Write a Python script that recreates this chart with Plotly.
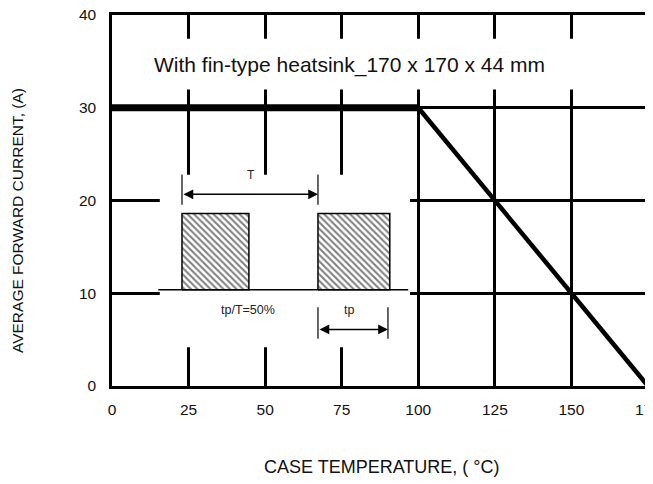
import plotly.graph_objects as go

# ---- data ----
case_temp_flat = [0, 100]
current_flat = [30, 30]
case_temp_slope = [100, 175]
current_slope = [30, 0]

x_ticks = [0, 25, 50, 75, 100, 125, 150, 175]
y_ticks = [0, 10, 20, 30, 40]

title_text = "With fin-type heatsink_170 x 170 x 44 mm"
x_title = "CASE TEMPERATURE, ( °C)"
y_title = "AVERAGE FORWARD CURRENT, (A)"

# ---- inset schematic (pulse train) geometry, in axis units ----
pulse1_x = [22.85, 44.7]
pulse2_x = [67.25, 90.7]
pulse_y = [10.37, 18.6]
baseline_x = [15.1, 96.7]
T_arrow_y = 20.67
T_tick_y = [19.55, 22.8]
tp_arrow_x = [67.25, 90.1]
tp_arrow_y = 6.1
tp_tick_y = [5.1, 8.5]

FONT = "Liberation Sans, Arial, sans-serif"

# page body has an 8px margin: size the figure so it fits the window
OFF = 8
W, H = 653 - OFF, 484 - OFF
L, T = 112 - OFF, 15 - OFF
PW, PH = 536, 371
R, B = W - L - PW, H - T - PH

fig = go.Figure()

# pulses (hatched)
for px in (pulse1_x, pulse2_x):
    fig.add_trace(go.Scatter(
        x=[px[0], px[1], px[1], px[0], px[0]],
        y=[pulse_y[0], pulse_y[0], pulse_y[1], pulse_y[1], pulse_y[0]],
        mode="lines", fill="toself", fillcolor="white",
        fillpattern=dict(shape="\\", size=4.6, solidity=0.45, fgcolor="black", bgcolor="white"),
        line=dict(color="black", width=1.5), hoverinfo="skip", showlegend=False))

# baseline
fig.add_trace(go.Scatter(x=baseline_x, y=[pulse_y[0], pulse_y[0]], mode="lines",
                         line=dict(color="black", width=1.5), hoverinfo="skip", showlegend=False))

# dimension tick marks
for xv, yr in ((pulse1_x[0], T_tick_y), (pulse2_x[0], T_tick_y),
               (tp_arrow_x[0], tp_tick_y), (tp_arrow_x[1], tp_tick_y)):
    fig.add_trace(go.Scatter(x=[xv, xv], y=yr, mode="lines",
                             line=dict(color="black", width=1.2), hoverinfo="skip", showlegend=False))

# derating curve
fig.add_trace(go.Scatter(x=case_temp_flat, y=current_flat, mode="lines",
                         line=dict(color="black", width=7), showlegend=False))
fig.add_trace(go.Scatter(x=case_temp_slope, y=current_slope, mode="lines",
                         line=dict(color="black", width=4.5), showlegend=False))

# white masks breaking the grid
fig.add_shape(type="rect", xref="x", yref="y", x0=0.6, x1=174.4, y0=31.98, y1=37.43,
              fillcolor="white", line_width=0, layer="between")
fig.add_shape(type="rect", xref="x", yref="y", x0=15.6, x1=97.3, y0=4.17, y1=22.78,
              fillcolor="white", line_width=0, layer="between")


def paper(sx, sy):
    """screen pixel -> paper coords"""
    return (sx - OFF - L) / PW, (H - B - (sy - OFF)) / PH


xt_x, xt_y = paper(382, 467)
yt_x, yt_y = paper(17, 221)

annotations = [
    dict(x=77.7, y=34.65, xref="x", yref="y", text=title_text, showarrow=False,
         font=dict(size=21, color="#111", family=FONT)),
    # T arrow
    dict(x=pulse2_x[0], y=T_arrow_y, ax=pulse1_x[0], ay=T_arrow_y, xref="x", yref="y",
         axref="x", ayref="y", text="", showarrow=True, arrowhead=2, startarrowhead=2,
         arrowside="end+start", arrowsize=1.3, startarrowsize=1.3, arrowwidth=1.5, arrowcolor="black"),
    dict(x=45.4, y=22.8, xref="x", yref="y", text="T", showarrow=False, yanchor="middle",
         font=dict(size=12, color="#222", family=FONT)),
    # tp arrow
    dict(x=tp_arrow_x[1], y=tp_arrow_y, ax=tp_arrow_x[0], ay=tp_arrow_y, xref="x", yref="y",
         axref="x", ayref="y", text="", showarrow=True, arrowhead=2, startarrowhead=2,
         arrowside="end+start", arrowsize=1.3, startarrowsize=1.3, arrowwidth=1.5, arrowcolor="black"),
    dict(x=77.5, y=8.2, xref="x", yref="y", text="tp", showarrow=False,
         font=dict(size=12.5, color="#222", family=FONT)),
    dict(x=44.5, y=8.2, xref="x", yref="y", text="tp/T=50%", showarrow=False,
         font=dict(size=12.5, color="#222", family=FONT)),
    # axis titles
    dict(x=xt_x, y=xt_y, xref="paper", yref="paper", text=x_title, showarrow=False,
         xanchor="center", yanchor="middle",
         font=dict(size=18, color="#111", family=FONT)),
    dict(x=yt_x, y=yt_y, xref="paper", yref="paper", text=y_title, showarrow=False,
         xanchor="center", yanchor="middle",
         textangle=-90, font=dict(size=15.5, color="#111", family=FONT)),
]

fig.update_layout(
    width=W, height=H,
    margin=dict(l=L, r=R, t=T, b=B, autoexpand=False),
    paper_bgcolor="white", plot_bgcolor="white",
    font=dict(family=FONT, color="#111"),
    annotations=annotations,
    showlegend=False,
)
fig.update_xaxes(range=[0, 175], tickvals=x_ticks, ticktext=[str(v) for v in x_ticks],
                 showgrid=True, gridcolor="black", gridwidth=2.5, zeroline=False,
                 showline=True, linecolor="black", linewidth=2.5, mirror=True,
                 ticks="outside", ticklen=8, tickcolor="rgba(0,0,0,0)",
                 ticklabeloverflow="allow",
                 tickfont=dict(size=15.5, color="#111", family=FONT), fixedrange=True)
fig.update_yaxes(range=[0, 40], tickvals=y_ticks, ticktext=[str(v) for v in y_ticks],
                 showgrid=True, gridcolor="black", gridwidth=2.5, zeroline=False,
                 showline=True, linecolor="black", linewidth=2.5, mirror=True,
                 ticks="outside", ticklen=10, tickcolor="rgba(0,0,0,0)",
                 ticklabeloverflow="allow",
                 tickfont=dict(size=15.5, color="#111", family=FONT), fixedrange=True)

fig.write_html("out.html")
